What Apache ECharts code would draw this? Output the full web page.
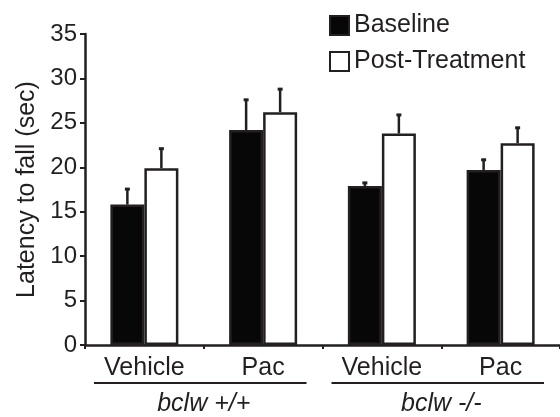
<!DOCTYPE html>
<html><head><meta charset="utf-8">
<script src="https://cdn.jsdelivr.net/npm/echarts@6/dist/echarts.min.js"></script>
<style>html,body{margin:0;padding:0;background:#fff}#c{width:560px;height:417px}</style>
</head><body><div id="c"></div>
<script>
const categories = ['Vehicle', 'Pac', 'Vehicle', 'Pac'];
const groups = ['bclw +/+', 'bclw -/-'];
const seriesNames = ['Baseline', 'Post-Treatment'];
const baseline = [15.8, 24.2, 17.9, 19.7];
const baselineErr = [1.8, 3.45, 0.4, 1.2];
const post = [19.9, 26.2, 23.8, 22.7];
const postErr = [2.25, 2.65, 2.15, 1.8];
const yTicks = [0, 5, 10, 15, 20, 25, 30, 35];

const INK = '#231f20';
const FONT = '"Liberation Sans", Arial, sans-serif';
const BAR_W = 34;

function errSeries(vals, errs, off) {
  return {
    type: 'custom', silent: true, z: 3,
    data: vals.map((v, i) => [i, v, errs[i]]),
    renderItem: function (params, api) {
      const ci = api.value(0), v = api.value(1), e = api.value(2);
      const p = api.coord([ci, v]);
      const t = api.coord([ci, v + e]);
      const x = p[0] + off;
      return { type: 'group', children: [
        { type: 'line', shape: { x1: x, y1: p[1], x2: x, y2: t[1] }, style: { stroke: INK, lineWidth: 2.5 } },
        { type: 'line', shape: { x1: x - 2.5, y1: t[1] + 0.5, x2: x + 2.5, y2: t[1] + 0.5 }, style: { stroke: INK, lineWidth: 3 } }
      ]};
    }
  };
}

const chart = echarts.init(document.getElementById('c'), null, { renderer: 'canvas' });
const option = {
  animation: false,
  backgroundColor: '#fff',
  textStyle: { fontFamily: FONT },
  grid: { left: 85, right: -3, top: 34, bottom: 72, containLabel: false },
  legend: {
    data: seriesNames, orient: 'vertical', left: 324, top: 8,
    icon: 'rect', itemWidth: 19, itemHeight: 19, itemGap: 11,
    textStyle: { fontSize: 25, color: INK, fontFamily: FONT }
  },
  xAxis: [{
    type: 'category', data: categories,
    axisLine: { lineStyle: { color: INK, width: 2.5 } },
    axisTick: { show: true, length: 4, lineStyle: { color: INK, width: 2 } },
    axisLabel: { fontSize: 25, color: INK, margin: 11, fontFamily: FONT }
  }, {
    type: 'category', data: groups, position: 'bottom', offset: 47,
    axisLine: { show: false }, axisTick: { show: false },
    axisLabel: { fontSize: 25, color: INK, fontStyle: 'italic', margin: 0, fontFamily: FONT }
  }],
  yAxis: {
    type: 'value', min: yTicks[0], max: yTicks[yTicks.length - 1], interval: 5,
    name: 'Latency to fall (sec)', nameLocation: 'middle', nameGap: 44,
    nameTextStyle: { fontSize: 25, color: INK, fontFamily: FONT },
    splitLine: { show: false },
    axisLine: { show: true, lineStyle: { color: INK, width: 2.5 } },
    axisTick: { show: true, length: 5, lineStyle: { color: INK, width: 2 } },
    axisLabel: { fontSize: 24, color: INK, margin: 8, fontFamily: FONT }
  },
  series: [
    { name: seriesNames[0], type: 'bar', data: baseline, barWidth: BAR_W, barGap: '0%', z: 2,
      itemStyle: { color: '#070707', borderColor: INK, borderWidth: 2.5 } },
    { name: seriesNames[1], type: 'bar', data: post, barWidth: BAR_W, barGap: '0%', z: 2,
      itemStyle: { color: '#ffffff', borderColor: INK, borderWidth: 2.5 } },
    errSeries(baseline, baselineErr, -BAR_W / 2),
    errSeries(post, postErr, BAR_W / 2)
  ]
};
chart.setOption(option);

// group underline brackets derived from the category axis
const c0 = chart.convertToPixel({ xAxisIndex: 0 }, 0);
const c1 = chart.convertToPixel({ xAxisIndex: 0 }, 1);
const band = c1 - c0;
const yAx = chart.convertToPixel({ yAxisIndex: 0 }, 0);
const lines = groups.map((g, gi) => {
  const start = c0 - band / 2 + gi * 2 * band;
  return { type: 'line', shape: { x1: start + 9, y1: yAx + 38, x2: start + 2 * band - 16, y2: yAx + 38 },
           style: { stroke: INK, lineWidth: 2 } };
});
chart.setOption({ graphic: lines });
</script></body></html>
